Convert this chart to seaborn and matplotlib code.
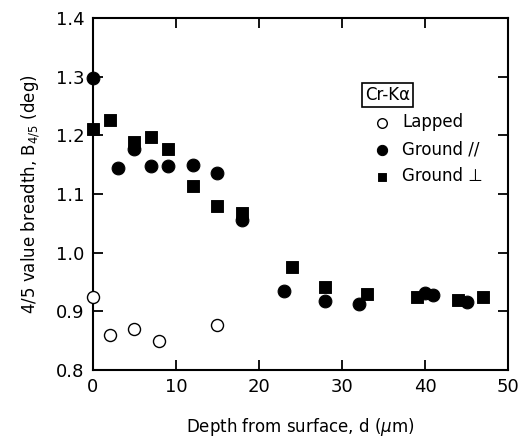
import numpy as np
import pandas as pd
import matplotlib
matplotlib.use("Agg")
import matplotlib.pyplot as plt
import seaborn as sns

# data
lapped_depth = [0, 2, 5, 8, 15]
lapped_b = [0.924, 0.859, 0.870, 0.850, 0.876]

par_depth = [0, 3, 5, 7, 9, 12, 15, 18, 23, 28, 32, 40, 41, 45]
par_b = [1.297, 1.145, 1.176, 1.148, 1.147, 1.149, 1.135, 1.056,
         0.935, 0.917, 0.912, 0.931, 0.927, 0.916]

perp_depth = [0, 2, 5, 7, 9, 12, 15, 18, 24, 28, 33, 39, 44, 47]
perp_b = [1.210, 1.226, 1.189, 1.197, 1.176, 1.114, 1.080, 1.068,
          0.976, 0.942, 0.930, 0.925, 0.919, 0.925]

sns.set_style("ticks")
plt.rcParams['font.family'] = ['DejaVu Sans']
plt.rcParams['text.color'] = 'black'
plt.rcParams['axes.labelcolor'] = 'black'

fig = plt.figure(figsize=(5.18, 4.43), dpi=100)
ax = fig.add_axes([0.1795, 0.1648, 0.8012, 0.7946])

sns.scatterplot(x=lapped_depth, y=lapped_b, ax=ax, marker='o', s=75,
                facecolor='white', edgecolor='black', linewidth=1.0,
                label='Lapped', clip_on=False, zorder=3)
sns.scatterplot(x=par_depth, y=par_b, ax=ax, marker='o', s=85,
                color='black', edgecolor='black', label='Ground //',
                clip_on=False, zorder=3)
sns.scatterplot(x=perp_depth, y=perp_b, ax=ax, marker='s', s=65,
                color='black', edgecolor='black', label='Ground \u22a5',
                clip_on=False, zorder=3)

ax.set_xlim(0, 50)
ax.set_ylim(0.8, 1.4)
ax.set_xticks([0, 10, 20, 30, 40, 50])
ax.set_yticks([0.8, 0.9, 1.0, 1.1, 1.2, 1.3, 1.4])
ax.yaxis.set_major_formatter(matplotlib.ticker.FormatStrFormatter('%.1f'))
ax.tick_params(direction='in', length=7, width=1.3, labelsize=13,
               top=True, right=True, pad=6, colors='black')
for sp in ax.spines.values():
    sp.set_linewidth(1.5)
    sp.set_color('black')

ax.set_xlabel("Depth from surface, d ($\\mu$m)", fontsize=12, labelpad=14)
ax.set_ylabel("4/5 value breadth, B$_{4/5}$ (deg)", fontsize=12, labelpad=10)

leg = ax.legend(title='Cr-K\u03b1', loc='upper left',
                bbox_to_anchor=(0.62, 0.85), frameon=False, fontsize=12,
                title_fontsize=12, handletextpad=0.2, labelspacing=0.55,
                markerscale=0.8)
leg._legend_box.align = 'left'
for t in leg.get_texts():
    t.set_color('black')
leg.get_title().set_bbox(dict(facecolor='white', edgecolor='black',
                              linewidth=1.2, pad=2))

fig.savefig('out.png', dpi=100)
